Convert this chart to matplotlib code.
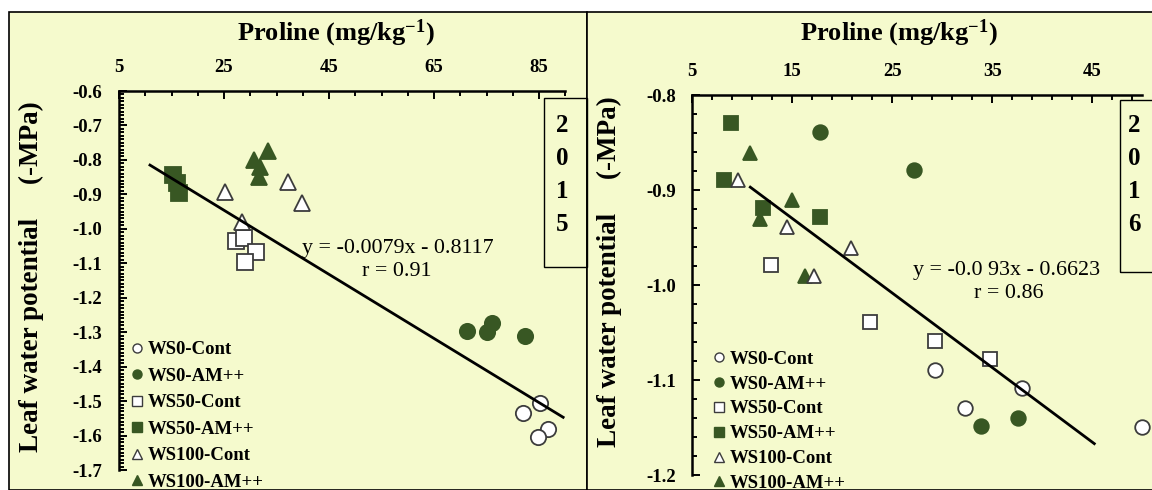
import numpy as np
import matplotlib.pyplot as plt
from matplotlib.lines import Line2D
from matplotlib.patches import Rectangle

# %% data 2015 (left panel)

x15_ws0_cont = [82.0, 85.1, 86.8, 84.9]
y15_ws0_cont = [-1.534, -1.505, -1.582, -1.605]
x15_ws0_am = [71.3, 75.0, 76.1, 82.3]
y15_ws0_am = [-1.297, -1.300, -1.273, -1.310]
x15_ws50_cont = [27.3, 28.9, 31.1, 29.0]
y15_ws50_cont = [-1.035, -1.028, -1.066, -1.095]
x15_ws50_am = [15.3, 16.0, 16.5]
y15_ws50_am = [-0.843, -0.868, -0.897]
x15_ws100_cont = [25.2, 37.1, 39.9, 28.4]
y15_ws100_cont = [-0.892, -0.863, -0.924, -0.979]
x15_ws100_am = [30.7, 33.4, 31.9, 31.7]
y15_ws100_am = [-0.800, -0.773, -0.820, -0.849]
fit15_x = [10.9, 89.6]
fit15_y = [-0.815, -1.547]
eq15 = 'y = -0.0079x - 0.8117'
r15 = 'r = 0.91'

# %% data 2016 (right panel)

x16_ws0_cont = [29.3, 38.0, 32.3, 50.0]
y16_ws0_cont = [-1.089, -1.108, -1.129, -1.149]
x16_ws0_am = [17.8, 27.2, 33.9, 37.6]
y16_ws0_am = [-0.839, -0.879, -1.148, -1.140]
x16_ws50_cont = [12.9, 22.8, 29.3, 34.8]
y16_ws50_cont = [-0.979, -1.039, -1.059, -1.078]
x16_ws50_am = [8.9, 8.2, 12.1, 17.8]
y16_ws50_am = [-0.829, -0.889, -0.919, -0.928]
x16_ws100_cont = [9.6, 14.5, 20.9, 17.2]
y16_ws100_cont = [-0.889, -0.939, -0.961, -0.991]
x16_ws100_am = [10.8, 15.0, 11.8, 16.3]
y16_ws100_am = [-0.861, -0.910, -0.930, -0.991]
fit16_x = [10.8, 45.2]
fit16_y = [-0.897, -1.167]
eq16 = 'y = -0.0 93x - 0.6623'
r16 = 'r = 0.86'

labels = ['WS0-Cont', 'WS0-AM++', 'WS50-Cont', 'WS50-AM++', 'WS100-Cont', 'WS100-AM++']

# %% style

W, H = 1152, 490
bg = '#F5FACD'
green = '#385723'
edge = '#3c3c3c'

plt.rcParams['font.family'] = ['Liberation Serif', 'DejaVu Serif']
plt.rcParams['font.weight'] = 'bold'
plt.rcParams['axes.unicode_minus'] = False
plt.rcParams['mathtext.fontset'] = 'custom'
plt.rcParams['mathtext.rm'] = 'Liberation Serif:bold'
plt.rcParams['mathtext.it'] = 'Liberation Serif:bold'
plt.rcParams['mathtext.bf'] = 'Liberation Serif:bold'


def fx(px):
    return px / W


def fy(py):
    return 1 - py / H


# marker, facecolor per series
styles = [('o', 'white'), ('o', green), ('s', 'white'), ('s', green), ('^', 'white'), ('^', green)]

fig = plt.figure(figsize=(W / 100, H / 100), dpi=100)

# panel backgrounds with borders
fig.patches.append(Rectangle((fx(9), 0), fx(587) - fx(9), fy(12), transform=fig.transFigure,
                             facecolor=bg, edgecolor='black', lw=1.2, zorder=-2))
fig.patches.append(Rectangle((fx(587), 0), 1.0, fy(12), transform=fig.transFigure,
                             facecolor=bg, edgecolor='black', lw=1.2, zorder=-2))
# year boxes
fig.patches.append(Rectangle((fx(544), fy(267)), fx(587) - fx(544), fy(98) - fy(267),
                             transform=fig.transFigure, facecolor='none', edgecolor='black', lw=1.0, zorder=-1))
fig.patches.append(Rectangle((fx(1120), fy(272)), 0.1, fy(100) - fy(272),
                             transform=fig.transFigure, facecolor='none', edgecolor='black', lw=1.0, zorder=-1))

ax1 = fig.add_axes([fx(119), fy(470), fx(565.25) - fx(119), fy(91) - fy(470)])
ax2 = fig.add_axes([fx(692.3), fy(475), fx(1142.3) - fx(692.3), fy(95) - fy(475)])


def draw_panel(ax, xs, ys, fx_, fy_, ms):
    order = [5, 3, 1, 0, 2, 4]
    for i in order:
        m, fc = styles[i]
        ec = green if fc == green else edge
        ax.plot(xs[i], ys[i], ls='none', marker=m, ms=ms, mfc=fc, mec=ec, mew=1.3, clip_on=False, zorder=3)
    ax.plot(fx_, fy_, color='black', lw=2.0, zorder=4)
    ax.patch.set_visible(False)
    for s in ['right', 'bottom']:
        ax.spines[s].set_visible(False)
    for s in ['left', 'top']:
        ax.spines[s].set_linewidth(1.8)
    ax.xaxis.tick_top()
    ax.tick_params(which='both', direction='in', width=1.4, labelsize=13.5)
    ax.tick_params(which='major', length=6)
    ax.tick_params(which='minor', length=3.5)
    ax.tick_params(axis='x', pad=11)
    ax.tick_params(axis='y', pad=12)
    ax.yaxis.set_major_formatter(plt.FormatStrFormatter('%.1f'))

    handles = []
    for m, fc in styles:
        ec = green if fc == green else edge
        handles.append(Line2D([], [], ls='none', marker=m, ms=6.5, mfc=fc, mec=ec, mew=1.0))
    return handles


leg_font = {'family': 'Liberation Serif', 'weight': 'bold', 'size': 13.5}

# %% left panel 2015

xs15 = [x15_ws0_cont, x15_ws0_am, x15_ws50_cont, x15_ws50_am, x15_ws100_cont, x15_ws100_am]
ys15 = [y15_ws0_cont, y15_ws0_am, y15_ws50_cont, y15_ws50_am, y15_ws100_cont, y15_ws100_am]
h = draw_panel(ax1, xs15, ys15, fit15_x, fit15_y, 11)
ax1.set_xlim(5, 90)
ax1.set_ylim(-1.7, -0.6)
ax1.set_xticks(np.arange(5, 90, 20))
ax1.set_xticks(np.arange(5, 91, 5), minor=True)
ax1.set_yticks(np.round(np.arange(-1.7, -0.55, 0.1), 2))
ax1.set_yticks(np.round(np.arange(-1.7, -0.595, 0.01), 3), minor=True)
ax1.legend(h, labels, loc='upper left', bbox_to_anchor=(0.028, 0.340), frameon=False,
           borderaxespad=0, borderpad=0, handlelength=0.6, handletextpad=0.25,
           labelspacing=0.5, prop=leg_font)

# %% right panel 2016

xs16 = [x16_ws0_cont, x16_ws0_am, x16_ws50_cont, x16_ws50_am, x16_ws100_cont, x16_ws100_am]
ys16 = [y16_ws0_cont, y16_ws0_am, y16_ws50_cont, y16_ws50_am, y16_ws100_cont, y16_ws100_am]
h = draw_panel(ax2, xs16, ys16, fit16_x, fit16_y, 10.5)
ax2.set_xlim(5, 50)
ax2.set_ylim(-1.2, -0.8)
ax2.set_xticks(np.arange(5, 50, 10))
ax2.set_xticks(np.arange(5, 51, 2), minor=True)
ax2.set_yticks(np.round(np.arange(-1.2, -0.75, 0.1), 2))
ax2.set_yticks(np.round(np.arange(-1.2, -0.795, 0.02), 3), minor=True)
ax2.legend(h, labels, loc='upper left', bbox_to_anchor=(0.047, 0.327), frameon=False,
           borderaxespad=0, borderpad=0, handlelength=0.6, handletextpad=0.25,
           labelspacing=0.41, prop=leg_font)

# %% texts

title = 'Proline (mg/kg$^{-1}$)'
ylab = 'Leaf water potential     (-MPa)'
fig.text(fx(336), fy(33), title, ha='center', va='center', fontsize=19)
fig.text(fx(899), fy(33), title, ha='center', va='center', fontsize=19)
fig.text(fx(31), fy(277), ylab, ha='center', va='center', rotation=90, fontsize=19.5)
fig.text(fx(609), fy(272), ylab, ha='center', va='center', rotation=90, fontsize=19.5)

fig.text(fx(398), fy(249), eq15, ha='center', va='center', fontsize=15.8, fontweight='normal')
fig.text(fx(397), fy(272), r15, ha='center', va='center', fontsize=15.8, fontweight='normal')
fig.text(fx(1007), fy(270), eq16, ha='center', va='center', fontsize=15.8, fontweight='normal')
fig.text(fx(1009), fy(293), r16, ha='center', va='center', fontsize=15.8, fontweight='normal')

fig.text(fx(562), fy(175), '2\n0\n1\n5', ha='center', va='center', fontsize=18, linespacing=1.57)
fig.text(fx(1134), fy(175), '2\n0\n1\n6', ha='center', va='center', fontsize=18, linespacing=1.57)

fig.savefig('out.png', dpi=100)
